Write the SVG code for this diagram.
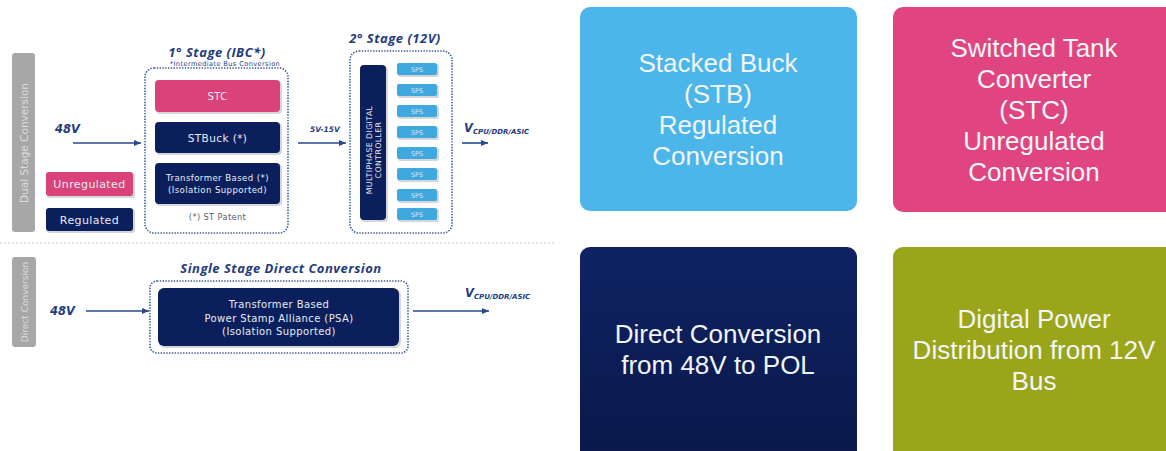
<svg xmlns="http://www.w3.org/2000/svg" width="1166" height="451" viewBox="0 0 1166 451">
<defs>
<linearGradient id="navyGrad" x1="0" y1="0" x2="0" y2="1">
<stop offset="0" stop-color="#0f2364"/>
<stop offset="1" stop-color="#0a1849"/>
</linearGradient>
<marker id="arr" markerWidth="8" markerHeight="8" refX="7" refY="4" orient="auto" markerUnits="userSpaceOnUse">
<path d="M0,1 L7,4 L0,7 Z" fill="#274a8c"/>
</marker>
<style>
.big{font-family:"Liberation Sans",Arial,sans-serif;font-size:26px;fill:#f2f5fa;text-anchor:middle}
.sm{font-family:"DejaVu Sans",sans-serif;fill:#e8ecf4;text-anchor:middle;letter-spacing:0.4px}
.ttl{font-family:"Open Sans",sans-serif;font-weight:bold;font-style:italic;fill:#1f3c7c;text-anchor:middle;letter-spacing:0.5px}
.lbl{font-family:"DejaVu Sans",sans-serif;font-weight:bold;font-style:italic;fill:#1f3c7c}
.dot{fill:none;stroke:#3b5c9c;stroke-width:1.6;stroke-dasharray:1.4 1.4}
.navy{fill:#0b1f5c}
.pink{fill:#d9437a}
.sps{fill:#3ea8df}
.shadow{fill:#d4d6da}
.bar{fill:#a7a7a7}
.bartxt{font-family:"DejaVu Sans",sans-serif;fill:#dcdcdc;text-anchor:middle}
.spst{font-family:"DejaVu Sans",sans-serif;fill:#cfe9f8;text-anchor:middle;font-size:6.5px}
.wire{stroke:#274a8c;stroke-width:1.6;fill:none;marker-end:url(#arr)}
</style>
</defs>
<rect width="1166" height="451" fill="#ffffff"/>

<!-- Right-hand category tiles -->
<g id="tile-stb">
<rect x="580" y="7" width="277" height="204" rx="10" fill="#4cb5e9"/>
<text class="big" x="718" y="72">Stacked Buck</text>
<text class="big" x="718" y="103">(STB)</text>
<text class="big" x="718" y="134">Regulated</text>
<text class="big" x="718" y="165">Conversion</text>
</g>
<g id="tile-stc">
<rect x="893" y="7" width="290" height="205" rx="10" fill="#e1457f"/>
<text class="big" x="1034" y="57">Switched Tank</text>
<text class="big" x="1034" y="88">Converter</text>
<text class="big" x="1034" y="119">(STC)</text>
<text class="big" x="1034" y="150">Unregulated</text>
<text class="big" x="1034" y="181">Conversion</text>
</g>
<g id="tile-direct">
<rect x="580" y="247" width="277" height="215" rx="10" fill="url(#navyGrad)"/>
<text class="big" x="718" y="343">Direct Conversion</text>
<text class="big" x="718" y="374">from 48V to POL</text>
</g>
<g id="tile-digital">
<rect x="893" y="247" width="290" height="215" rx="10" fill="#9aa519"/>
<text class="big" x="1034" y="328">Digital Power</text>
<text class="big" x="1034" y="359">Distribution from 12V</text>
<text class="big" x="1034" y="390">Bus</text>
</g>

<!-- Separator -->
<line x1="0" y1="243" x2="555" y2="243" stroke="#c9c9c9" stroke-width="1.2" stroke-dasharray="2 2"/>

<!-- Dual stage section -->
<g id="bar-dual">
<rect class="bar" x="12" y="53" width="23" height="179" rx="3"/>
<text class="bartxt" font-size="10.5" transform="translate(27.5,143) rotate(-90)">Dual Stage Conversion</text>
</g>
<g id="legend-unregulated">
<rect class="shadow" x="47" y="173" width="88" height="25" rx="3"/>
<rect class="pink" x="46" y="172" width="87" height="24" rx="3"/>
<text class="sm" x="89.5" y="188" font-size="11" letter-spacing="0.9">Unregulated</text>
</g>
<g id="legend-regulated">
<rect class="shadow" x="47" y="209" width="88" height="24" rx="3"/>
<rect class="navy" x="46" y="208" width="87" height="23" rx="3"/>
<text class="sm" x="89.5" y="223.5" font-size="11" letter-spacing="0.6">Regulated</text>
</g>
<g id="in-48v-dual">
<text class="lbl" x="55" y="133" font-size="11.5">48V</text>
</g>

<g id="stage1">
<text class="ttl" x="217" y="57" font-size="13">1° Stage (IBC*)</text>
<text class="sm" x="225" y="66" font-size="6.6" style="fill:#1f3c7c">*Intermediate Bus Conversion</text>
<rect class="dot" x="145" y="68" width="143" height="165" rx="9"/>
</g>
<g id="stc">
<rect class="shadow" x="156" y="81" width="126" height="33" rx="4"/>
<rect class="pink" x="155" y="80" width="125" height="32" rx="4"/>
<text class="sm" x="217.5" y="99.5" font-size="10">STC</text>
</g>
<g id="stbuck">
<rect class="shadow" x="156" y="123" width="126" height="32" rx="4"/>
<rect class="navy" x="155" y="122" width="125" height="31" rx="4"/>
<text class="sm" x="217.5" y="141.5" font-size="10.5">STBuck (*)</text>
</g>
<g id="transformer">
<rect class="shadow" x="156" y="164" width="126" height="42" rx="4"/>
<rect class="navy" x="155" y="163" width="125" height="41" rx="4"/>
<text class="sm" x="217.5" y="181" font-size="8.6">Transformer Based (*)</text>
<text class="sm" x="217.5" y="192.5" font-size="8.6">(Isolation Supported)</text>
</g>
<g id="patent">
<text class="sm" x="217.5" y="220" font-size="8.2" style="fill:#5a6070">(*) ST Patent</text>
</g>

<g id="bus-label">
<text class="lbl" x="310" y="132" font-size="7.5">5V-15V</text>
</g>

<g id="stage2">
<text class="ttl" x="395" y="43" font-size="13">2° Stage (12V)</text>
<rect class="dot" x="350" y="51" width="102" height="182" rx="9"/>
</g>
<g id="controller">
<rect class="shadow" x="361" y="66" width="27" height="156" rx="4"/>
<rect class="navy" x="360" y="65" width="26" height="155" rx="4"/>
<text class="sm" font-size="7.8" letter-spacing="0.3" transform="translate(372,150) rotate(-90)">MULTIPHASE DIGITAL</text>
<text class="sm" font-size="7.8" letter-spacing="0.3" transform="translate(381,150) rotate(-90)">CONTROLLER</text>
</g>
<g id="sps">
<rect class="shadow" x="398" y="64" width="41" height="13" rx="2"/>
<rect class="sps" x="397" y="63" width="40" height="12" rx="2"/>
<text class="spst" x="417" y="71.5">SPS</text>
<rect class="shadow" x="398" y="85" width="41" height="13" rx="2"/>
<rect class="sps" x="397" y="84" width="40" height="12" rx="2"/>
<text class="spst" x="417" y="92.5">SPS</text>
<rect class="shadow" x="398" y="106" width="41" height="13" rx="2"/>
<rect class="sps" x="397" y="105" width="40" height="12" rx="2"/>
<text class="spst" x="417" y="113.5">SPS</text>
<rect class="shadow" x="398" y="127" width="41" height="13" rx="2"/>
<rect class="sps" x="397" y="126" width="40" height="12" rx="2"/>
<text class="spst" x="417" y="134.5">SPS</text>
<rect class="shadow" x="398" y="148" width="41" height="13" rx="2"/>
<rect class="sps" x="397" y="147" width="40" height="12" rx="2"/>
<text class="spst" x="417" y="155.5">SPS</text>
<rect class="shadow" x="398" y="169" width="41" height="13" rx="2"/>
<rect class="sps" x="397" y="168" width="40" height="12" rx="2"/>
<text class="spst" x="417" y="176.5">SPS</text>
<rect class="shadow" x="398" y="190" width="41" height="13" rx="2"/>
<rect class="sps" x="397" y="189" width="40" height="12" rx="2"/>
<text class="spst" x="417" y="197.5">SPS</text>
<rect class="shadow" x="398" y="209" width="41" height="13" rx="2"/>
<rect class="sps" x="397" y="208" width="40" height="12" rx="2"/>
<text class="spst" x="417" y="216.5">SPS</text>
</g>
<g id="out-dual">
<text class="lbl" x="464" y="132" font-size="11.5">V<tspan font-size="7" dy="2">CPU/DDR/ASIC</tspan></text>
</g>

<!-- Direct conversion section -->
<g id="bar-direct">
<rect class="bar" x="12" y="257" width="24" height="90" rx="3"/>
<text class="bartxt" font-size="9" transform="translate(27.5,302) rotate(-90)">Direct Conversion</text>
</g>
<g id="in-48v-direct">
<text class="lbl" x="50" y="315" font-size="11.5">48V</text>
</g>
<g id="single-stage">
<text class="ttl" x="281" y="273" font-size="13">Single Stage Direct Conversion</text>
<rect class="dot" x="150" y="281" width="258" height="72" rx="7"/>
</g>
<g id="psa">
<rect class="shadow" x="159" y="289" width="242" height="59" rx="6"/>
<rect class="navy" x="158" y="288" width="241" height="58" rx="6"/>
<text class="sm" x="279" y="307.5" font-size="10">Transformer Based</text>
<text class="sm" x="279" y="321.5" font-size="10">Power Stamp Alliance (PSA)</text>
<text class="sm" x="279" y="335" font-size="10">(Isolation Supported)</text>
</g>
<g id="out-direct">
<text class="lbl" x="465" y="297" font-size="11.5">V<tspan font-size="7" dy="2">CPU/DDR/ASIC</tspan></text>
</g>

<!-- Connectors -->
<g id="connectors">
<line class="wire" x1="73" y1="143" x2="141" y2="143"/>
<line class="wire" x1="298" y1="143" x2="346" y2="143"/>
<line class="wire" x1="462" y1="143" x2="488" y2="143"/>
<line class="wire" x1="86" y1="311" x2="149" y2="311"/>
<line class="wire" x1="413" y1="311" x2="489" y2="311"/>
</g>
</svg>
